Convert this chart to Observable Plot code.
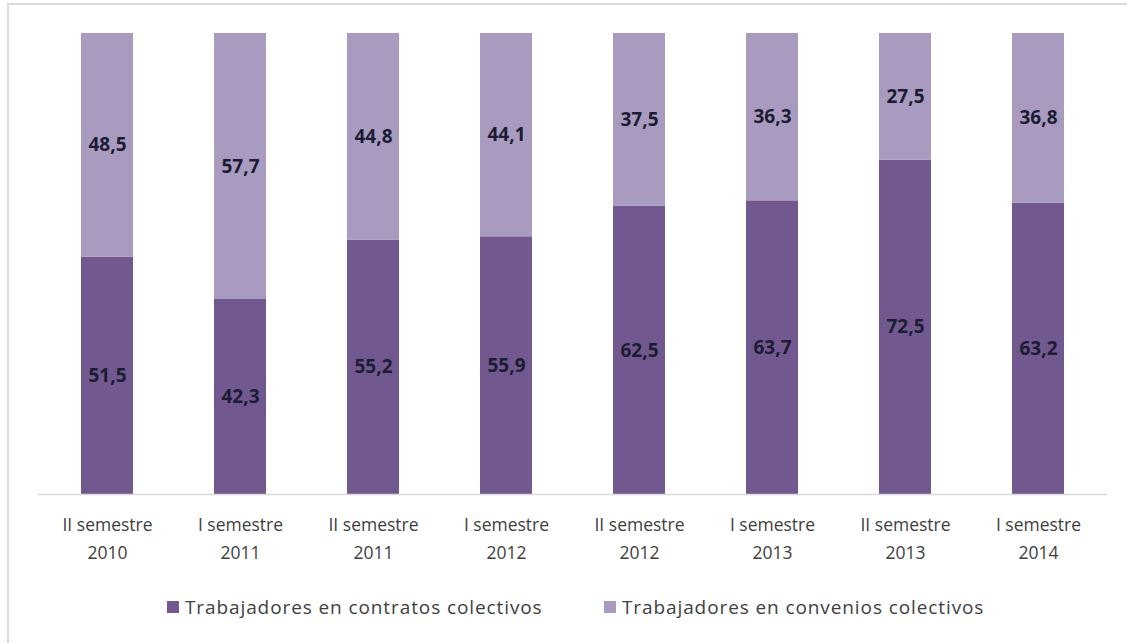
<!DOCTYPE html>
<html>
<head>
<meta charset="utf-8">
<script src="https://cdn.jsdelivr.net/npm/d3@7"></script>
<script src="https://cdn.jsdelivr.net/npm/@observablehq/plot@0.6"></script>
<style>
  html, body { margin: 0; padding: 0; background: #fff; }
  #wrap { position: relative; width: 1127px; height: 643px; overflow: hidden; font-family: "Open Sans", sans-serif; }
  #frame { position: absolute; left: 7px; top: 3px; right: -10px; bottom: -10px; border-left: 2px solid #dcdcdc; border-top: 2px solid #dcdcdc; }
  #chart { position: absolute; left: 0; top: 0; }
  .legend { position: absolute; top: 593px; height: 28px; font-size: 19px; letter-spacing: 0.9px; color: #404040; display: flex; align-items: center; white-space: nowrap; }
  .sw { width: 12px; height: 12px; display: inline-block; margin-right: 6px; }
</style>
</head>
<body>
<div id="wrap">
  <div id="frame"></div>
  <div id="chart"></div>
  <div class="legend" id="leg1" style="left:167px"><span class="sw" style="background:#71588f"></span><span id="lt1"></span></div>
  <div class="legend" id="leg2" style="left:604px"><span class="sw" style="background:#a99bbf"></span><span id="lt2"></span></div>
</div>
<script>
const categories = ["II semestre\n2010", "I semestre\n2011", "II semestre\n2011", "I semestre\n2012", "II semestre\n2012", "I semestre\n2013", "II semestre\n2013", "I semestre\n2014"];
const seriesNames = ["Trabajadores en contratos colectivos", "Trabajadores en convenios colectivos"];
const contratos = [51.5, 42.3, 55.2, 55.9, 62.5, 63.7, 72.5, 63.2];
const convenios = [48.5, 57.7, 44.8, 44.1, 37.5, 36.3, 27.5, 36.8];
const colors = ["#71588f", "#a99bbf"];

const data = [];
categories.forEach((c, i) => {
  data.push({cat: c, series: seriesNames[0], value: contratos[i]});
  data.push({cat: c, series: seriesNames[1], value: convenios[i]});
});

const fmt = v => v.toFixed(1).replace(".", ",");

const chart = Plot.plot({
  width: 1127,
  height: 580,
  marginTop: 33,
  marginBottom: 86,
  marginLeft: 38,
  marginRight: 20,
  style: {fontFamily: "Open Sans, sans-serif", background: "transparent"},
  x: {domain: categories, paddingInner: 0.61, paddingOuter: 0.305, label: null},
  y: {domain: [0, 100], axis: null},
  color: {domain: seriesNames, range: colors},
  marks: [
    Plot.barY(data, {x: "cat", y: "value", fill: "series", order: seriesNames}),
    Plot.ruleY([0], {stroke: "#d9d9d9", strokeWidth: 1.5}),
    Plot.text(data, Plot.stackY({x: "cat", y: "value", z: "series", order: seriesNames, text: d => fmt(d.value), fill: "#1c1c35", fontWeight: "bold", fontSize: 19})),
    Plot.axisX({tickSize: 0, tickPadding: 17, fontSize: 17.5, lineHeight: 1.6, fill: "#404040", label: null})
  ]
});
document.getElementById("chart").appendChild(chart);
document.getElementById("lt1").textContent = seriesNames[0];
document.getElementById("lt2").textContent = seriesNames[1];
</script>
</body>
</html>
